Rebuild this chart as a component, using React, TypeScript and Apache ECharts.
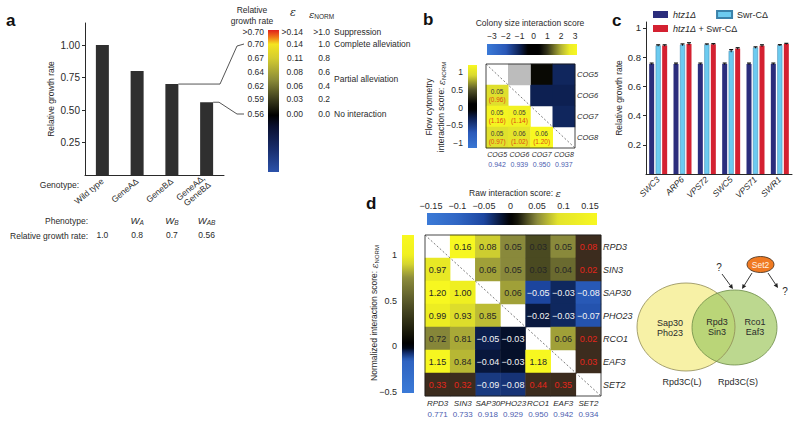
import React, { useEffect, useRef } from 'react';
import * as echarts from 'echarts';

const FONT = '"Liberation Sans", Arial, Helvetica, sans-serif';
const SERIF = '"DejaVu Serif", "Liberation Serif", serif';
const INK = '#2a2a2a';
const BLUE_TXT = '#4b5db0';
const RED_TXT = '#e3261c';
const MINUS = '\u2212';

// ---------------- Panel a ----------------
const genotypes = ['Wild type', 'GeneAΔ', 'GeneBΔ', 'GeneAΔ,\nGeneBΔ'];
const growthRates = [1.0, 0.8, 0.7, 0.56];
const phenotypeSubscripts = ['', 'A', 'B', 'AB'];
const growthRateText = ['1.0', '0.8', '0.7', '0.56'];
const growthTicks = [0.25, 0.5, 0.75, 1.0];

const legendGrowth = ['>0.70', '0.70', '0.67', '0.64', '0.62', '0.59', '0.56'];
const legendEps = ['>0.14', '0.14', '0.11', '0.08', '0.06', '0.03', '0.00'];
const legendNorm = ['>1.0', '1.0', '0.8', '0.6', '0.4', '0.2', '0.0'];
const legendMeanings = ['Suppression', 'Complete alleviation', 'Partial alleviation', 'No interaction'];
const legendMeaningRows = [0, 1, 3.5, 6];

// ---------------- Panel b ----------------
const cogGenes = ['COG5', 'COG6', 'COG7', 'COG8'];
const cogGrowth = ['0.942', '0.939', '0.950', '0.937'];
// [row, col, colony size score] (upper triangle)
const cogColony = [[0, 2, 0.5], [0, 3, -1.1], [1, 2, -1.0], [1, 3, -1.0], [2, 3, -1.1]];
const cogMissing = [[0, 1]];
// [row, col, raw epsilon] (lower triangle) with matching normalized scores
const cogEps = [[1, 0, 0.05], [2, 0, 0.05], [2, 1, 0.05], [3, 0, 0.05], [3, 1, 0.06], [3, 2, 0.06]];
const cogNorm = [0.96, 1.16, 1.14, 0.97, 1.02, 1.2];

// ---------------- Panel c ----------------
const swrGenes = ['SWC3', 'ARP6', 'VPS72', 'SWC5', 'VPS71', 'SWR1'];
const htz1 = [0.753, 0.753, 0.753, 0.753, 0.753, 0.753];
const swrC = [0.879, 0.884, 0.886, 0.842, 0.865, 0.881];
const htz1SwrC = [0.879, 0.89, 0.888, 0.858, 0.877, 0.89];
const htz1Err = [0.006, 0.006, 0.006, 0.006, 0.006, 0.006];
const swrCErr = [0.005, 0.006, 0.004, 0.009, 0.005, 0.004];
const htz1SwrCErr = [0.005, 0.008, 0.004, 0.006, 0.007, 0.004];
const cTicks = [0.2, 0.4, 0.6, 0.8, 1.0];

// ---------------- Panel d ----------------
const dGenes = ['RPD3', 'SIN3', 'SAP30', 'PHO23', 'RCO1', 'EAF3', 'SET2'];
const dGrowth = ['0.771', '0.733', '0.918', '0.929', '0.950', '0.942', '0.934'];
const dScores: (number | null)[][] = [
  [null, 0.16, 0.08, 0.05, 0.03, 0.05, 0.08],
  [0.97, null, 0.06, 0.05, 0.03, 0.04, 0.02],
  [1.2, 1.0, null, 0.06, -0.05, -0.03, -0.08],
  [0.99, 0.93, 0.85, null, -0.02, -0.03, -0.07],
  [0.72, 0.81, -0.05, -0.03, null, 0.06, 0.02],
  [1.15, 0.84, -0.04, -0.03, 1.18, null, 0.03],
  [0.33, 0.32, -0.09, -0.08, 0.44, 0.35, null],
];
const dFlagged = [[0, 6], [1, 6], [4, 6], [5, 6], [6, 0], [6, 1], [6, 4], [6, 5]];

// ---------------- Venn ----------------
const vennLeft = 'Sap30\nPho23';
const vennMiddle = 'Rpd3\nSin3';
const vennRight = 'Rco1\nEaf3';
const vennLeftName = 'Rpd3C(L)';
const vennRightName = 'Rpd3C(S)';
const vennRegulator = 'Set2';

// ---------------- colour scales ----------------
type Stop = [number, string];
const colonyStops: Stop[] = [[-3.4, '#3b7bd8'], [-2, '#2a58b8'], [-1, '#0d2052'], [-0.4, '#000000'], [0.4, '#000000'], [1, '#33331a'], [2, '#b4b436'], [2.6, '#ecec28'], [3.2, '#f8f820']];
const bNormStops: Stop[] = [[-1.2, '#3b7bd8'], [-0.7, '#2a58b8'], [-0.3, '#0d2052'], [-0.05, '#000000'], [0.1, '#000000'], [0.5, '#55552a'], [0.9, '#d8d830'], [1.2, '#f8f820']];
const dRawStops: Stop[] = [[-0.16, '#3b7bd8'], [-0.1, '#3066c4'], [-0.05, '#1c46a0'], [-0.015, '#06122e'], [0, '#000000'], [0.015, '#1a1a0c'], [0.05, '#8a8a3c'], [0.09, '#e4e42c'], [0.165, '#f8f820']];
const dNormStops: Stop[] = [[-0.52, '#3b7bd8'], [-0.15, '#2e62c0'], [-0.06, '#0e2660'], [-0.02, '#020818'], [0.03, '#000000'], [0.15, '#181809'], [0.45, '#505026'], [0.75, '#8c8c3c'], [0.9, '#d4d430'], [1.0, '#f0f020'], [1.23, '#f8f820']];
const MISSING_COLOR = '#bcbcbc';
const FLAGGED_COLOR = '#3c2c1e';
const aLegendStops = [
  { offset: 0, color: '#e0201c' }, { offset: 0.05, color: '#f07818' }, { offset: 0.1, color: '#f4e420' },
  { offset: 0.2, color: '#d4cc30' }, { offset: 0.35, color: '#8c8c38' }, { offset: 0.5, color: '#36361a' },
  { offset: 0.6, color: '#000000' }, { offset: 0.68, color: '#0a1030' }, { offset: 0.85, color: '#1a3070' },
  { offset: 1, color: '#2c52aa' },
];

function hexRgb(c: string) { const n = parseInt(c.slice(1), 16); return [(n >> 16) & 255, (n >> 8) & 255, n & 255]; }
function rgbHex(r: number[]) { return '#' + r.map(v => Math.round(Math.max(0, Math.min(255, v))).toString(16).padStart(2, '0')).join(''); }
function colorAt(stops: Stop[], v: number) {
  if (v <= stops[0][0]) return stops[0][1];
  for (let i = 1; i < stops.length; i++) {
    if (v <= stops[i][0]) {
      const t = (v - stops[i - 1][0]) / (stops[i][0] - stops[i - 1][0]);
      const a = hexRgb(stops[i - 1][1]); const b = hexRgb(stops[i][1]);
      return rgbHex(a.map((x, k) => x + (b[k] - x) * t));
    }
  }
  return stops[stops.length - 1][1];
}
function sample(stops: Stop[], min: number, max: number, n = 60) {
  return Array.from({ length: n + 1 }, (_, i) => colorAt(stops, min + ((max - min) * i) / n));
}
function grad(stops: Stop[], vStart: number, vEnd: number, horizontal: boolean) {
  const n = 60;
  const cs = Array.from({ length: n + 1 }, (_, i) => ({ offset: i / n, color: colorAt(stops, vStart + ((vEnd - vStart) * i) / n) }));
  return new echarts.graphic.LinearGradient(0, 0, horizontal ? 1 : 0, horizontal ? 0 : 1, cs);
}

// colour bars: axis (tick) box and drawn rectangle
const CB_COLONY = { axis: { left: 492, top: 44, width: 83, height: 11 }, min: -3, max: 3, rect: { x: 487, y: 44, w: 90, h: 11 }, horizontal: true };
const CB_BNORM = { axis: { left: 468, top: 72, width: 9, height: 71 }, min: -1, max: 1, rect: { x: 468, y: 65, w: 9, h: 83 }, horizontal: false };
const CB_DRAW = { axis: { left: 431, top: 213, width: 159, height: 12 }, min: -0.15, max: 0.15, rect: { x: 427, y: 213, w: 170, h: 12 }, horizontal: true };
const CB_DNORM = { axis: { left: 402, top: 255, width: 12, height: 137 }, min: -0.5, max: 1, rect: { x: 402, y: 235, w: 12, h: 158 }, horizontal: false };
function cbExtent(cb: any): [number, number] {
  const span = cb.max - cb.min;
  if (cb.horizontal) {
    return [cb.min + ((cb.rect.x - cb.axis.left) / cb.axis.width) * span, cb.min + ((cb.rect.x + cb.rect.w - cb.axis.left) / cb.axis.width) * span];
  }
  return [cb.max - ((cb.rect.y + cb.rect.h - cb.axis.top) / cb.axis.height) * span, cb.max - ((cb.rect.y - cb.axis.top) / cb.axis.height) * span];
}
function cbRect(cb: any, stops: Stop[]) {
  const [lo, hi] = cbExtent(cb);
  return {
    type: 'rect', z: 1, silent: true,
    shape: { x: cb.rect.x, y: cb.rect.y, width: cb.rect.w, height: cb.rect.h },
    style: { fill: cb.horizontal ? grad(stops, lo, hi, true) : grad(stops, hi, lo, false) },
  };
}

const fmtTick = (v: number) => { const r = Math.round(v * 1000) / 1000; return r < 0 ? MINUS + String(Math.abs(r)) : String(r); };
const fmt2 = (v: number) => (v < 0 ? MINUS : '') + Math.abs(v).toFixed(2);

// grid boxes
const G_A = { left: 85, top: 23, width: 139, height: 152 };
const G_B = { left: 486, top: 64, width: 89, height: 84 };
const G_C = { left: 646, top: 22, width: 146, height: 152 };
const G_D = { left: 425, top: 235, width: 176, height: 161 };

function txt(x: number, y: number, t: string, o: any = {}) {
  return {
    type: 'text', x, y, z: 20, silent: true, rotation: o.rotation || 0,
    style: {
      text: t, fill: o.fill || INK, fontSize: o.size || 8.5, fontFamily: o.family || FONT,
      fontWeight: o.weight || 'normal', fontStyle: o.fstyle || 'normal',
      align: o.align || 'left', verticalAlign: o.va || 'middle',
      rich: o.rich, lineHeight: o.lineHeight,
    },
  };
}
const epsNormRich = (size: number) => ({
  e: { fontFamily: SERIF, fontStyle: 'italic', fontSize: size + 1, fill: INK, color: INK },
  s: { fontFamily: FONT, fontSize: size - 2.5, padding: [5, 0, 0, 0], fill: INK, color: INK },
});

function arrowEls(x1: number, y1: number, x2: number, y2: number) {
  const dx = x2 - x1; const dy = y2 - y1; const L = Math.hypot(dx, dy);
  const ux = dx / L; const uy = dy / L; const hl = 4.5; const hw = 2.2;
  const bx = x2 - ux * hl; const by = y2 - uy * hl;
  return [
    { type: 'line', z: 10, silent: true, shape: { x1, y1, x2: bx, y2: by }, style: { stroke: '#222', lineWidth: 0.9 } },
    { type: 'polygon', z: 10, silent: true, shape: { points: [[x2, y2], [bx - uy * hw, by + ux * hw], [bx + uy * hw, by - ux * hw]] }, style: { fill: '#222' } },
  ];
}

function buildOption() {
  const [colLo, colHi] = cbExtent(CB_COLONY);
  const [bnLo, bnHi] = cbExtent(CB_BNORM);
  const [drLo, drHi] = cbExtent(CB_DRAW);
  const [dnLo, dnHi] = cbExtent(CB_DNORM);

  const bColonyData = cogColony.map(([r, c, v]) => [c, r, v]);
  const bMissingData = cogMissing.map(([r, c]) => [c, r, 0]);
  const bLowerData = cogEps.map(([r, c], i) => [c, r, cogNorm[i]]);

  const dRawData: any[] = []; const dNormData: any[] = []; const dFlagData: any[] = [];
  dScores.forEach((row, r) => row.forEach((v, c) => {
    if (v === null) return;
    const flagged = dFlagged.some(([fr, fc]) => fr === r && fc === c);
    const item = { value: [c, r, v], label: { color: flagged ? RED_TXT : v < 0 ? '#f4f4f4' : '#262626' } };
    if (flagged) dFlagData.push(item); else if (c > r) dRawData.push(item); else dNormData.push(item);
  }));

  const errData: number[][] = [];
  [[htz1, htz1Err], [swrC, swrCErr], [htz1SwrC, htz1SwrCErr]].forEach(([vals, errs], s) => {
    vals.forEach((v, i) => errData.push([i, v, errs[i], s]));
  });

  const hidden = (gridIndex: number) => ({ type: 'value', gridIndex, show: false });
  const heatCat = (gridIndex: number, data: string[], growth: string[], size: number, lh: number, margin: number) => ({
    type: 'category', gridIndex, data, position: 'bottom',
    axisLine: { show: false }, axisTick: { show: false }, splitLine: { show: false },
    axisLabel: {
      interval: 0, margin,
      formatter: (v: string, i: number) => `{n|${v}}\n{v|${growth[i]}}`,
      rich: {
        n: { fontStyle: 'italic', fontSize: size, color: INK, lineHeight: lh, fontFamily: FONT },
        v: { fontSize: size, color: BLUE_TXT, lineHeight: lh, fontFamily: FONT },
      },
    },
  });
  const heatRows = (gridIndex: number, data: string[], size: number) => ({
    type: 'category', gridIndex, data, inverse: true, position: 'right',
    axisLine: { show: false }, axisTick: { show: false }, splitLine: { show: false },
    axisLabel: { interval: 0, margin: 2, fontStyle: 'italic', fontSize: size, color: INK },
  });
  const cbAxisLabel = (size: number, margin: number) => ({ fontSize: size, color: INK, margin, formatter: fmtTick });

  const legendText = {
    fontSize: 9, color: INK,
    rich: { i: { fontStyle: 'italic', fontSize: 9, color: INK, fontFamily: FONT } },
  };
  const legendFmt = (name: string) => name.replace('htz1Δ', '{i|htz1Δ}');

  return {
    animation: false,
    backgroundColor: '#ffffff',
    textStyle: { fontFamily: FONT },
    grid: [
      G_A,
      G_B,
      CB_COLONY.axis,
      CB_BNORM.axis,
      G_C,
      G_D,
      CB_DRAW.axis,
      CB_DNORM.axis,
    ].map(g => ({ ...g, outerBoundsMode: 'none' })),
    legend: [
      { data: ['htz1Δ', 'Swr-CΔ'], left: 653, top: 10, itemWidth: 15, itemHeight: 7, itemGap: 20, icon: 'rect', textStyle: legendText, formatter: legendFmt, selectedMode: false, padding: 0 },
      { data: ['htz1Δ + Swr-CΔ'], left: 653, top: 24, itemWidth: 15, itemHeight: 7, icon: 'rect', textStyle: legendText, formatter: legendFmt, selectedMode: false, padding: 0 },
    ],
    visualMap: [
      { type: 'continuous', show: false, seriesIndex: 1, dimension: 2, min: colLo, max: colHi, inRange: { color: sample(colonyStops, colLo, colHi) } },
      { type: 'continuous', show: false, seriesIndex: 3, dimension: 2, min: bnLo, max: bnHi, inRange: { color: sample(bNormStops, bnLo, bnHi) } },
      { type: 'continuous', show: false, seriesIndex: 8, dimension: 2, min: drLo, max: drHi, inRange: { color: sample(dRawStops, drLo, drHi) } },
      { type: 'continuous', show: false, seriesIndex: 9, dimension: 2, min: dnLo, max: dnHi, inRange: { color: sample(dNormStops, dnLo, dnHi) } },
      { type: 'continuous', show: false, seriesIndex: 2, dimension: 2, min: -1, max: 1, inRange: { color: [MISSING_COLOR, MISSING_COLOR] } },
      { type: 'continuous', show: false, seriesIndex: 10, dimension: 2, min: -2, max: 2, inRange: { color: [FLAGGED_COLOR, FLAGGED_COLOR] } },
    ],
    xAxis: [
      // 0: panel a genotypes
      {
        type: 'category', gridIndex: 0, data: genotypes,
        axisLine: { lineStyle: { color: INK, width: 1 } }, axisTick: { show: false },
        axisLabel: { interval: 0, rotate: 40, fontSize: 8.5, color: INK, margin: 5, lineHeight: 9 },
      },
      // 1: phenotype row
      {
        type: 'category', gridIndex: 0, data: genotypes, position: 'bottom', offset: 33,
        axisLine: { show: false }, axisTick: { show: false },
        axisLabel: {
          interval: 0, margin: 6,
          formatter: (_v: string, i: number) => (phenotypeSubscripts[i] ? `{w|W}{s|${phenotypeSubscripts[i]}}` : ''),
          rich: {
            w: { fontStyle: 'italic', fontSize: 9.5, color: INK, fontFamily: FONT },
            s: { fontStyle: 'italic', fontSize: 6.5, color: INK, fontFamily: FONT, padding: [5, 0, 0, 0] },
          },
        },
      },
      // 2: relative growth rate row
      {
        type: 'category', gridIndex: 0, data: genotypes, position: 'bottom', offset: 49,
        axisLine: { show: false }, axisTick: { show: false },
        axisLabel: { interval: 0, margin: 6, fontSize: 8.5, color: INK, formatter: (_v: string, i: number) => growthRateText[i] },
      },
      // 3: panel b columns
      heatCat(1, cogGenes, cogGrowth, 7, 9.5, 2),
      // 4: colony colour bar ticks
      { type: 'value', gridIndex: 2, min: CB_COLONY.min, max: CB_COLONY.max, interval: 1, position: 'top', axisLine: { show: false }, axisTick: { show: false }, splitLine: { show: false }, axisLabel: cbAxisLabel(8.5, 4) },
      // 5: dummy
      hidden(3),
      // 6: panel c genes
      {
        type: 'category', gridIndex: 4, data: swrGenes,
        axisLine: { lineStyle: { color: INK, width: 1 } }, axisTick: { show: false },
        axisLabel: { interval: 0, rotate: 45, fontSize: 8.5, fontStyle: 'italic', color: INK, margin: 4 },
      },
      // 7: panel d columns
      heatCat(5, dGenes, dGrowth, 8, 11, 2),
      // 8: raw colour bar ticks
      { type: 'value', gridIndex: 6, min: CB_DRAW.min, max: CB_DRAW.max, interval: 0.05, position: 'top', axisLine: { show: false }, axisTick: { show: false }, splitLine: { show: false }, axisLabel: cbAxisLabel(9, 3) },
      // 9: dummy
      hidden(7),
    ],
    yAxis: [
      // 0: panel a
      {
        type: 'value', gridIndex: 0, min: 0, max: 1.17,
        axisLine: { show: true, lineStyle: { color: INK, width: 1 } },
        axisTick: { show: true, length: 3, customValues: growthTicks, lineStyle: { color: INK } },
        axisLabel: { customValues: growthTicks, formatter: (v: number) => v.toFixed(2), fontSize: 10, color: INK, margin: 5 },
        splitLine: { show: false },
        name: 'Relative growth rate', nameLocation: 'middle', nameGap: 30, nameRotate: 90,
        nameTextStyle: { fontSize: 8.5, color: INK },
      },
      // 1: panel b rows
      heatRows(1, cogGenes, 7.5),
      // 2: dummy
      hidden(2),
      // 3: b norm colour bar
      { type: 'value', gridIndex: 3, min: CB_BNORM.min, max: CB_BNORM.max, interval: 0.5, position: 'left', axisLine: { show: false }, axisTick: { show: false }, splitLine: { show: false }, axisLabel: cbAxisLabel(8.5, 5) },
      // 4: panel c
      {
        type: 'value', gridIndex: 4, min: 0, max: 1.04,
        axisLine: { show: true, lineStyle: { color: INK, width: 1 } },
        axisTick: { show: true, length: 3, customValues: cTicks, lineStyle: { color: INK } },
        axisLabel: { customValues: cTicks, formatter: (v: number) => String(Math.round(v * 10) / 10), fontSize: 9.5, color: INK, margin: 5 },
        splitLine: { show: false },
        name: 'Relative growth rate', nameLocation: 'middle', nameGap: 22, nameRotate: 90,
        nameTextStyle: { fontSize: 8.5, color: INK },
      },
      // 5: panel d rows
      heatRows(5, dGenes, 9),
      // 6: dummy
      hidden(6),
      // 7: d norm colour bar
      { type: 'value', gridIndex: 7, min: CB_DNORM.min, max: CB_DNORM.max, interval: 0.5, position: 'left', axisLine: { show: false }, axisTick: { show: false }, splitLine: { show: false }, axisLabel: cbAxisLabel(9, 5) },
    ],
    series: [
      // 0
      { type: 'bar', xAxisIndex: 0, yAxisIndex: 0, data: growthRates, barWidth: 13, itemStyle: { color: '#2f2f2f' }, silent: true },
      // 1
      { type: 'heatmap', xAxisIndex: 3, yAxisIndex: 1, data: bColonyData, label: { show: false }, emphasis: { disabled: true }, silent: true },
      // 2
      { type: 'heatmap', xAxisIndex: 3, yAxisIndex: 1, data: bMissingData, label: { show: false }, emphasis: { disabled: true }, silent: true },
      // 3
      {
        type: 'heatmap', xAxisIndex: 3, yAxisIndex: 1, data: bLowerData, emphasis: { disabled: true }, silent: true,
        label: {
          show: true,
          formatter: (p: any) => `{a|${cogEps[p.dataIndex][2].toFixed(2)}}\n{b|(${cogNorm[p.dataIndex].toFixed(2)})}`,
          rich: {
            a: { fontSize: 6.5, color: '#3a3a3a', lineHeight: 8, fontFamily: FONT },
            b: { fontSize: 6.5, color: '#e04a10', lineHeight: 8, fontFamily: FONT },
          },
        },
      },
      // 4-6
      { type: 'bar', name: 'htz1Δ', xAxisIndex: 6, yAxisIndex: 4, data: htz1, barWidth: 5, barGap: '30%', itemStyle: { color: '#2b2d7c' }, silent: true },
      { type: 'bar', name: 'Swr-CΔ', xAxisIndex: 6, yAxisIndex: 4, data: swrC, barWidth: 5, barGap: '30%', itemStyle: { color: '#6ccbf0', borderColor: '#3b82aa', borderWidth: 0.5 }, silent: true },
      { type: 'bar', name: 'htz1Δ + Swr-CΔ', xAxisIndex: 6, yAxisIndex: 4, data: htz1SwrC, barWidth: 5, barGap: '30%', itemStyle: { color: '#d42131' }, silent: true },
      // 7: error bars
      {
        type: 'custom', xAxisIndex: 6, yAxisIndex: 4, data: errData, encode: { x: 0, y: 1 }, z: 10, silent: true,
        renderItem: (_params: any, api: any) => {
          const i = api.value(0); const v = api.value(1); const e = api.value(2); const s = api.value(3);
          const base = api.coord([i, v]);
          const x = base[0] + (s - 1) * 6.5;
          const yTop = api.coord([i, v + e])[1];
          const yBot = api.coord([i, v - e])[1];
          return {
            type: 'group', children: [
              { type: 'line', shape: { x1: x, y1: yTop, x2: x, y2: yBot }, style: { stroke: '#111', lineWidth: 1 } },
              { type: 'line', shape: { x1: x - 2, y1: yTop, x2: x + 2, y2: yTop }, style: { stroke: '#111', lineWidth: 1.2 } },
            ],
          };
        },
      },
      // 8-10: panel d
      { type: 'heatmap', xAxisIndex: 7, yAxisIndex: 5, data: dRawData, emphasis: { disabled: true }, silent: true, label: { show: true, fontSize: 9, formatter: (p: any) => fmt2(p.value[2]) } },
      { type: 'heatmap', xAxisIndex: 7, yAxisIndex: 5, data: dNormData, emphasis: { disabled: true }, silent: true, label: { show: true, fontSize: 9, formatter: (p: any) => fmt2(p.value[2]) } },
      { type: 'heatmap', xAxisIndex: 7, yAxisIndex: 5, data: dFlagData, emphasis: { disabled: true }, silent: true, label: { show: true, fontSize: 9, formatter: (p: any) => fmt2(p.value[2]) } },
    ],
  };
}

function buildGraphics(chart: any) {
  const g: any[] = [];
  // panel letters
  g.push(txt(6, 20, 'a', { size: 17, weight: 'bold', fill: '#111' }));
  g.push(txt(423, 19, 'b', { size: 17, weight: 'bold', fill: '#111' }));
  g.push(txt(612, 20, 'c', { size: 17, weight: 'bold', fill: '#111' }));
  g.push(txt(366, 203, 'd', { size: 17, weight: 'bold', fill: '#111' }));

  // ---- panel a ----
  g.push(txt(79, 185, 'Genotype:', { align: 'right' }));
  g.push(txt(88, 221, 'Phenotype:', { align: 'right' }));
  g.push(txt(88, 236, 'Relative growth rate:', { align: 'right' }));

  const ROW_Y = [32, 44, 58, 72, 86, 99, 114];
  const rowY = (r: number) => { const lo = Math.floor(r); const hi = Math.ceil(r); return ROW_Y[lo] + (ROW_Y[hi] - ROW_Y[lo]) * (r - lo); };
  g.push(txt(252, 10, 'Relative', { align: 'center' }));
  g.push(txt(252, 21, 'growth rate', { align: 'center' }));
  g.push({ type: 'rect', z: 1, silent: true, shape: { x: 268, y: 30, width: 11, height: 142 }, style: { fill: new echarts.graphic.LinearGradient(0, 0, 0, 1, aLegendStops) } });
  g.push(txt(293, 12, 'ε', { family: SERIF, fstyle: 'italic', size: 11, align: 'center' }));
  g.push(txt(309, 14, '{e|ε}{s|NORM}', { rich: epsNormRich(9) }));
  legendGrowth.forEach((t, i) => g.push(txt(264, ROW_Y[i], t, { align: 'right' })));
  legendEps.forEach((t, i) => g.push(txt(303, ROW_Y[i], t, { align: 'right' })));
  legendNorm.forEach((t, i) => g.push(txt(330, ROW_Y[i], t, { align: 'right' })));
  legendMeanings.forEach((t, i) => g.push(txt(334, rowY(legendMeaningRows[i]), t)));

  const pB = chart.convertToPixel({ seriesIndex: 0 }, [2, growthRates[2]]);
  const pAB = chart.convertToPixel({ seriesIndex: 0 }, [3, growthRates[3]]);
  g.push({ type: 'polyline', z: 5, silent: true, shape: { points: [[pB[0] + 6.5, pB[1]], [220, pB[1]], [237, ROW_Y[1] + 2], [244, ROW_Y[1]]] }, style: { stroke: INK, lineWidth: 0.8, fill: null } });
  g.push({ type: 'polyline', z: 5, silent: true, shape: { points: [[pAB[0] + 6.5, pAB[1]], [219, pAB[1]], [237, ROW_Y[6]], [244, ROW_Y[6]]] }, style: { stroke: INK, lineWidth: 0.8, fill: null } });

  // ---- panel b ----
  g.push(txt(530, 23, 'Colony size interaction score', { align: 'center' }));
  g.push(cbRect(CB_COLONY, colonyStops));
  g.push(cbRect(CB_BNORM, bNormStops));
  g.push(txt(435, 107, 'Flow cytometry\ninteraction score: {e|ε}{s|NORM}', { align: 'center', rotation: Math.PI / 2, lineHeight: 12, rich: epsNormRich(8.5) }));
  g.push({ type: 'rect', z: 30, silent: true, shape: { x: G_B.left, y: G_B.top, width: G_B.width, height: G_B.height }, style: { fill: null, stroke: '#1a1a1a', lineWidth: 0.8 } });
  g.push({ type: 'line', z: 30, silent: true, shape: { x1: G_B.left, y1: G_B.top, x2: G_B.left + G_B.width, y2: G_B.top + G_B.height }, style: { stroke: '#444', lineWidth: 0.7, lineDash: [2, 2] } });

  // ---- panel d ----
  g.push(txt(515, 193, 'Raw interaction score: {e|ε}', { align: 'center', rich: { e: { fontFamily: SERIF, fontStyle: 'italic', fontSize: 10, fill: INK } } }));
  g.push(cbRect(CB_DRAW, dRawStops));
  g.push(cbRect(CB_DNORM, dNormStops));
  g.push(txt(374, 313, 'Normalized interaction score: {e|ε}{s|NORM}', { align: 'center', rotation: Math.PI / 2, rich: epsNormRich(8.5) }));
  g.push({ type: 'rect', z: 30, silent: true, shape: { x: G_D.left, y: G_D.top, width: G_D.width, height: G_D.height }, style: { fill: null, stroke: '#1a1a1a', lineWidth: 0.8 } });
  g.push({ type: 'line', z: 30, silent: true, shape: { x1: G_D.left, y1: G_D.top, x2: G_D.left + G_D.width, y2: G_D.top + G_D.height }, style: { stroke: '#444', lineWidth: 0.7, lineDash: [2, 2] } });

  // ---- Venn ----
  const Y = { cx: 686, cy: 327, rx: 49, ry: 44 };
  const Gr = { cx: 734.5, cy: 327.5, rx: 42.5, ry: 37.5 };
  g.push({ type: 'ellipse', z: 1, silent: true, shape: Y, style: { fill: '#f7f1a6' } });
  g.push({ type: 'ellipse', z: 2, silent: true, shape: Gr, style: { fill: 'rgba(164,202,104,0.74)' } });
  g.push({ type: 'ellipse', z: 3, silent: true, shape: Y, style: { fill: null, stroke: '#8f8a55', lineWidth: 0.8 } });
  g.push({ type: 'ellipse', z: 3, silent: true, shape: Gr, style: { fill: null, stroke: '#6b8a45', lineWidth: 0.8 } });
  g.push(txt(670, 328, vennLeft, { align: 'center', size: 9, lineHeight: 10.5 }));
  g.push(txt(717, 327, vennMiddle, { align: 'center', size: 9, lineHeight: 10.5 }));
  g.push(txt(755, 327, vennRight, { align: 'center', size: 9, lineHeight: 10.5 }));
  g.push(txt(682, 382, vennLeftName, { align: 'center', size: 9 }));
  g.push(txt(738, 382, vennRightName, { align: 'center', size: 9 }));
  g.push({ type: 'ellipse', z: 4, silent: true, shape: { cx: 760.5, cy: 264.5, rx: 13.5, ry: 8 }, style: { fill: '#f07a22', stroke: '#3a2a1a', lineWidth: 0.8 } });
  g.push(txt(760.5, 264.5, vennRegulator, { align: 'center', size: 8.5, fill: '#fff3e6' }));
  g.push(txt(719, 267, '?', { align: 'center', size: 10 }));
  g.push(txt(785, 291, '?', { align: 'center', size: 10 }));
  g.push(...arrowEls(722, 274, 733, 289));
  g.push(...arrowEls(752, 273, 742, 289));
  g.push(...arrowEls(768, 273, 778, 288));
  return g;
}

export default function App() {
  const ref = useRef<HTMLDivElement>(null);
  useEffect(() => {
    const chart = echarts.init(ref.current as HTMLDivElement, null, { renderer: 'svg', width: 800, height: 424 });
    chart.setOption(buildOption() as any);
    chart.setOption({ graphic: { elements: buildGraphics(chart) } } as any);
    return () => chart.dispose();
  }, []);
  return <div ref={ref} style={{ position: 'absolute', left: 0, top: 0, width: 800, height: 424, background: '#fff' }} />;
}
